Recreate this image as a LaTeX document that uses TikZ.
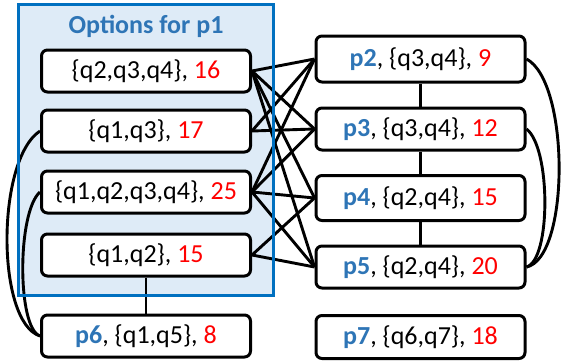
\documentclass[tikz,border=0pt]{standalone}
\usepackage{fontspec}
\setmainfont{Carlito}
\definecolor{pblue}{HTML}{2E75B6}
\definecolor{frameblue}{HTML}{0070C0}
\definecolor{fillblue}{HTML}{DEEBF7}
\definecolor{numred}{HTML}{FF0000}
\pgfdeclarelayer{bglayer}
\pgfdeclarelayer{framelayer}
\pgfsetlayers{bglayer,framelayer,main}
\begin{document}
\begin{tikzpicture}[x=1pt,y=-1pt,
  box/.style={draw=black,line width=3pt,rounded corners=6pt,fill=white,
    minimum width=209pt,minimum height=42pt,inner sep=0pt,
    font=\fontsize{26}{30}\selectfont},
  link/.style={line width=2.9pt,black},
  title/.style={font=\fontsize{26}{30}\selectfont\bfseries,text=pblue}]
\useasboundingbox (0,0) rectangle (563,364);
\node[title] (ttl) at (146,26) {Options for p1};
\path
  (146,71)  node[box] (b1) {\{q2,q3,q4\}, \textcolor{numred}{16}}
  (146,131) node[box] (b2) {\{q1,q3\}, \textcolor{numred}{17}}
  (146,192) node[box] (b3) {\{q1,q2,q3,q4\}, \textcolor{numred}{25}}
  (146,255) node[box] (b4) {\{q1,q2\}, \textcolor{numred}{15}}
  (146,336) node[box] (p6) {\textcolor{pblue}{\textbf{p6}}, \{q1,q5\}, \textcolor{numred}{8}}
  (420.5,59)  node[box,minimum height=46pt] (p2) {\textcolor{pblue}{\textbf{p2}}, \{q3,q4\}, \textcolor{numred}{9}}
  (420.5,129) node[box] (p3) {\textcolor{pblue}{\textbf{p3}}, \{q3,q4\}, \textcolor{numred}{12}}
  (420.5,198) node[box,minimum height=45pt] (p4) {\textcolor{pblue}{\textbf{p4}}, \{q2,q4\}, \textcolor{numred}{15}}
  (420.5,267) node[box] (p5) {\textcolor{pblue}{\textbf{p5}}, \{q2,q4\}, \textcolor{numred}{20}}
  (420.5,337) node[box,minimum height=43pt] (p7) {\textcolor{pblue}{\textbf{p7}}, \{q6,q7\}, \textcolor{numred}{18}};
\begin{pgfonlayer}{bglayer}
  \fill[fillblue] (18.5,4.5) rectangle (273.5,295.5);
  \foreach \a/\b in {b1/p2,b1/p3,b1/p4,b1/p5,b2/p2,b2/p3,b3/p2,b3/p3,b3/p4,b3/p5,b4/p4,b4/p5}
    \draw[link] (\a.east) -- (\b.west);
  \draw[link] (b4.south) -- (p6.north);
  \draw[link] (p2.south) -- (p3.north);
  \draw[link] (p3.south) -- (p4.north);
  \draw[link] (p4.south) -- (p5.north);
  \draw[link] (b2.west) .. controls (-4,160) and (-4,322) .. (p6.west);
  \draw[link] (b3.west) .. controls (17,212) and (17,328) .. (p6.west);
  \draw[link] (p2.east) .. controls (570,82) and (570,258) .. (p5.east);
  \draw[link] (p3.east) .. controls (551,148) and (551,260) .. (p5.east);
\end{pgfonlayer}
\begin{pgfonlayer}{framelayer}
  \draw[frameblue,line width=3pt] (18.5,4.5) rectangle (273.5,295.5);
\end{pgfonlayer}
\end{tikzpicture}
\end{document}
